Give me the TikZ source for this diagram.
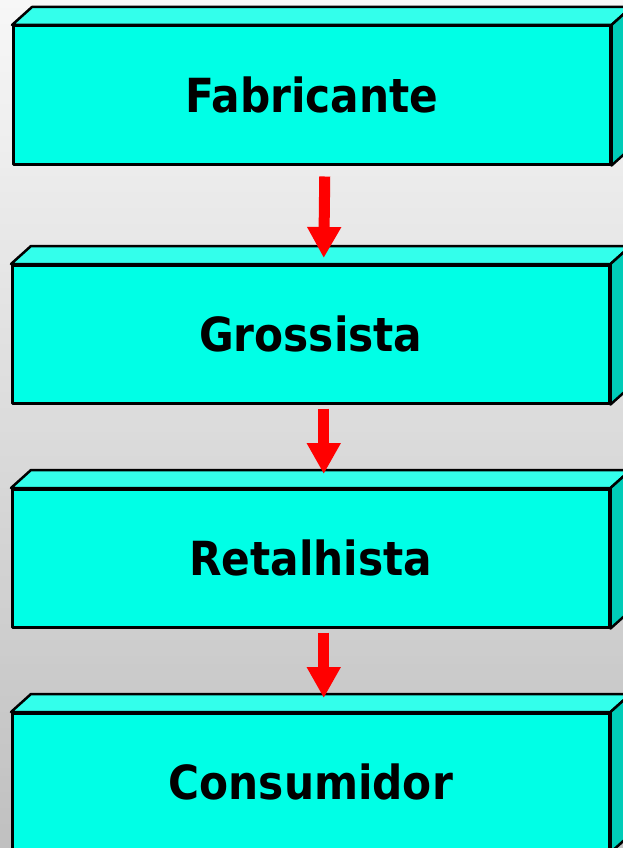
\documentclass[tikz,border=0pt]{standalone}
\usepackage{fontspec}
\setmainfont{DejaVu Sans}[FakeStretch=0.9]
\usetikzlibrary{arrows.meta}

\definecolor{frontcyan}{RGB}{0,255,230}
\definecolor{topcyan}{RGB}{51,255,235}
\definecolor{sidecyan}{RGB}{0,204,184}
\definecolor{bgtop}{RGB}{247,247,247}
\definecolor{bgbottom}{RGB}{192,192,192}
\definecolor{arrowred}{RGB}{255,0,0}

\tikzset{
  frontface/.style={draw=black, line width=2.5pt, fill=frontcyan,
    minimum width=597pt, minimum height=138pt, inner sep=0pt,
    anchor=north west, line join=round,
    font=\fontsize{47}{56}\selectfont\bfseries},
  topface/.style={draw=black, line width=2.5pt, fill=topcyan, line join=round},
  sideface/.style={draw=black, line width=2.5pt, fill=sidecyan, line join=round},
  flowarrow/.style={draw=arrowred, line width=11pt,
    -{Triangle[width=32pt,length=31pt]}}
}

% a stage of the chain: front face with its top and right faces
\newcommand\stagebox[3]{%
  \node[frontface] (#1) at #2 {#3};
  \draw[topface] (#1.north west) -- ++(20,-18)
    -- ([shift={(20,-18)}]#1.north east) -- (#1.north east) -- cycle;
  \draw[sideface] (#1.north east) -- ++(20,-18)
    -- ([shift={(20,-18)}]#1.south east) -- (#1.south east) -- cycle;
}

\begin{document}
\begin{tikzpicture}[x=1pt, y=-1pt]
  \useasboundingbox (0,0) rectangle (623,848);
  \clip (0,0) rectangle (623,848);
  % vertical grey gradient built from thin bands
  \foreach \i in {0,...,105} {
    \pgfmathtruncatemacro{\mix}{round(100*\i/105)}
    \fill[bgbottom!\mix!bgtop] (-2,{8*\i}) rectangle (625,{8*\i+8.6});
  }

  \stagebox{fab}{(12,25)}{Fabricante}
  \stagebox{gro}{(11,264)}{Grossista}
  \stagebox{ret}{(11,488)}{Retalhista}
  \stagebox{con}{(11,712)}{Consumidor}

  \draw[flowarrow] ([shift={(13,11)}]fab.south) -- ([shift={(13,-6)}]gro.north);
  \draw[flowarrow] ([shift={(13,4)}]gro.south) -- ([shift={(13,-14)}]ret.north);
  \draw[flowarrow] ([shift={(13,4)}]ret.south) -- ([shift={(13,-14)}]con.north);
\end{tikzpicture}
\end{document}
